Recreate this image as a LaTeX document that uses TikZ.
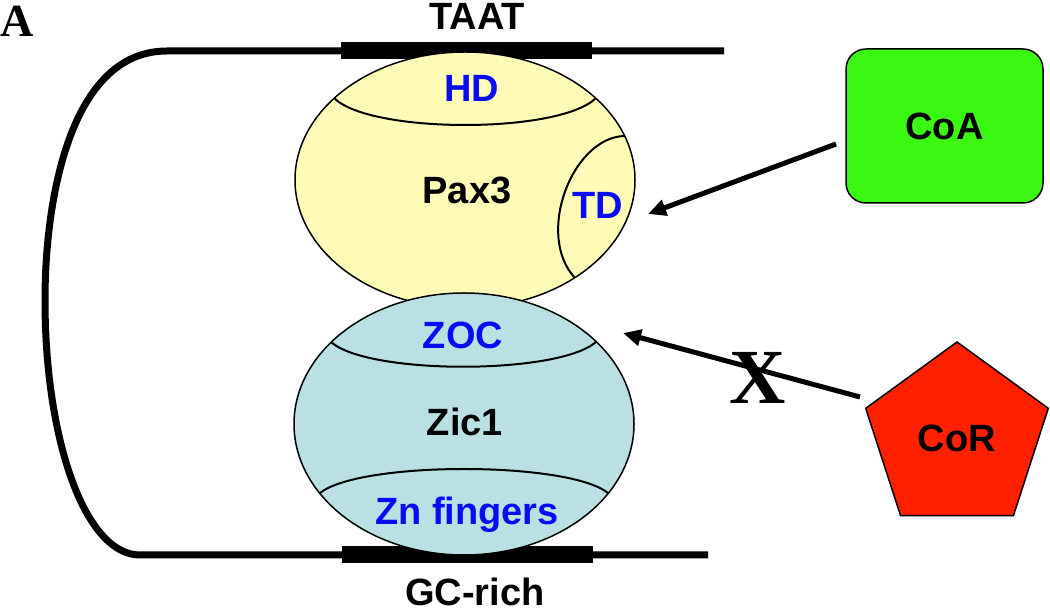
\documentclass[tikz,border=0pt]{standalone}
\usepackage{fontspec}
\setmainfont{Liberation Sans}
\newfontfamily\timesfont{Liberation Serif}
\usetikzlibrary{shapes.geometric,arrows.meta}
\definecolor{paxyellow}{RGB}{254,252,182}
\definecolor{zicblue}{RGB}{186,224,228}
\definecolor{coagreen}{RGB}{58,248,18}
\definecolor{corred}{RGB}{255,32,0}
\definecolor{domblue}{RGB}{10,10,245}
\begin{document}
\begin{tikzpicture}[x=0.5pt,y=-0.5pt,
  lab/.style={font=\fontsize{19}{21}\selectfont\bfseries,inner sep=1pt},
  dom/.style={lab,text=domblue},
  dna/.style={line width=3.5pt},
  protein/.style={ellipse,draw,line width=0.75pt,inner sep=0pt},
  arr/.style={line width=2.5pt,-{Triangle[length=9pt,width=8pt]}}]
\useasboundingbox (0,0) rectangle (1050,613);

% DNA loop with the two binding sites
\draw[dna] (724,51) -- (167,51) .. controls (70,51) and (45,200) .. (45,300)
  .. controls (45,440) and (85,555) .. (140,555) -- (708,555);
\fill (341,42.5) rectangle (592,59.5);
\fill (342,546.5) rectangle (593,563.5);
\node[lab] (taat) at (477,16) {TAAT};
\node[lab] (gcrich) at (475,592) {GC-rich};
\node[font=\timesfont\fontsize{23}{25}\selectfont\bfseries] (panel) at (17,21) {A};

% proteins
\node[protein,fill=paxyellow,minimum width=170pt,minimum height=128pt] (pax3) at (465,180) {};
\node[protein,fill=zicblue,minimum width=170pt,minimum height=131pt] (zic1) at (464,424) {};
\draw[line width=1pt] (334,98) .. controls (370,134) and (560,134) .. (596,98);
\draw[line width=1pt] (624,136) .. controls (572,138) and (535,235) .. (575,278);
\draw[line width=1pt] (331,342) .. controls (368,375) and (558,375) .. (596,342);
\draw[line width=1pt] (320,493) .. controls (360,461) and (568,461) .. (608,493);
\node[lab] (paxlab) at (467,190) {Pax3};
\node[dom] (hd) at (472,88) {HD};
\node[dom] (td) at (598,205) {TD};
\node[lab] (ziclab) at (465,422) {Zic1};
\node[dom] (zoc) at (463,335) {ZOC};
\node[dom] (zn) at (467,515) {Zn fingers};

% cofactors
\node[lab,draw,line width=0.75pt,fill=coagreen,rounded corners=10pt,
  minimum width=98.5pt,minimum height=77pt] (coa) at (944.5,126) {CoA};
\node[lab,draw,line width=0.75pt,fill=corred,regular polygon,regular polygon sides=5,
  minimum size=96pt,inner sep=0pt] (cor) at (957,438) {CoR};

\coordinate (coaout) at (836,144);
\coordinate (tdin) at (648,214);
\coordinate (corout) at (860,397);
\coordinate (zocin) at (623,333);
\draw[arr] (coaout) -- (tdin);
\draw[arr] (corout) -- (zocin);
\node[font=\timesfont\fontsize{39}{42}\selectfont\bfseries] (block) at (758,378) {X};
\end{tikzpicture}
\end{document}
